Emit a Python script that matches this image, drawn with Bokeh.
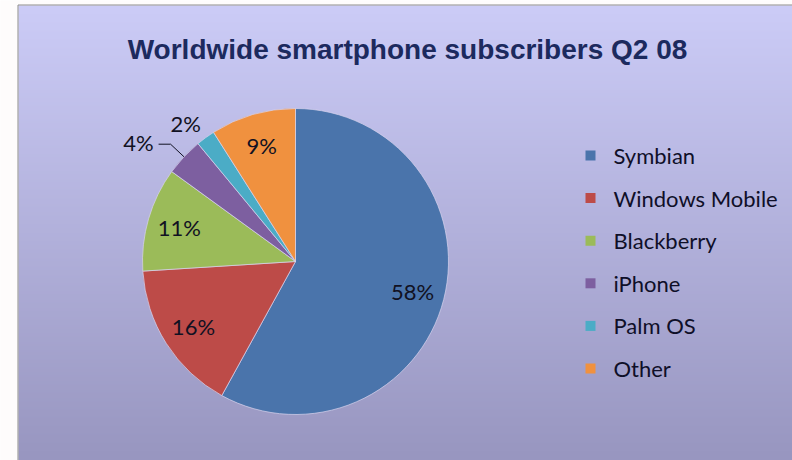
import numpy as np
from bokeh.plotting import figure
from bokeh.models import ColumnDataSource
from bokeh.core.properties import value
from bokeh.embed import file_html
from bokeh.resources import INLINE

# Smartphone subscriber share, Q2 2008 (percent)
platforms = ["Symbian", "Windows Mobile", "Blackberry", "iPhone", "Palm OS", "Other"]
shares = [58, 16, 11, 4, 2, 9]
colors = ["#4A74AB", "#BD4B48", "#9BBB59", "#7D5FA0", "#4BACC6", "#F0913F"]
title_text = "Worldwide smartphone subscribers Q2 08"

W, H = 792, 460
p = figure(width=W, height=H, x_range=(0, W), y_range=(0, H),
           output_backend="svg", toolbar_location=None, min_border=0)
p.axis.visible = False
p.grid.visible = False
p.outline_line_color = None
p.background_fill_color = "#FEFCFC"
p.border_fill_color = "#FEFCFC"

# chart area: vertical lavender gradient with a grey frame
left, top = 18, H - 5
rows = top
t = np.linspace(0, 1, rows)[:, None]           # 0 = bottom, 1 = top
c_bot = np.array([152, 150, 192])
c_top = np.array([204, 204, 247])
rgb = (c_bot + (c_top - c_bot) * t).astype(np.uint32)
img = np.empty((rows, 2), dtype=np.uint32)
view = img.view(dtype=np.uint8).reshape((rows, 2, 4))
view[:, :, 0] = rgb[:, 0:1]
view[:, :, 1] = rgb[:, 1:2]
view[:, :, 2] = rgb[:, 2:3]
view[:, :, 3] = 255
p.image_rgba(image=[img], x=left, y=0, dw=W - left, dh=top)
p.quad(left=left - 0.5, right=W + 10, bottom=-10, top=top + 0.5,
       fill_color=None, line_color="#8C8C8C", line_width=1)

# pie geometry (clockwise from 12 o'clock)
cx, cy, r = 295, H - 261, 153
frac = np.array(shares, dtype=float) / sum(shares)
cum_end = np.cumsum(frac)
cum_start = cum_end - frac
start = np.pi / 2 - 2 * np.pi * cum_end
end = np.pi / 2 - 2 * np.pi * cum_start
mid = (start + end) / 2

src = ColumnDataSource(dict(start=start, end=end, color=colors,
                            name=platforms, share=shares))
p.wedge(x=cx, y=cy, radius=r, start_angle="start", end_angle="end",
        direction="anticlock", fill_color="color", line_color="#D8D4EE",
        line_width=1, line_alpha=0.7, source=src)

# percentage labels
label_font = value("Lato")
label_size = "22px"
ink = "#111122"
inside = [i for i, v in enumerate(shares) if v >= 5]
lx = [cx + 0.79 * r * np.cos(mid[i]) for i in inside]
ly = [cy + 0.79 * r * np.sin(mid[i]) for i in inside]
p.text(x=lx, y=ly, text=[f"{shares[i]}%" for i in inside],
       text_font=label_font, text_font_size=label_size, text_color=ink,
       text_align="center", text_baseline="middle")

# small slices: iPhone with leader line, Palm OS just outside the rim
i_ip = platforms.index("iPhone")
ex, ey = cx + r * np.cos(mid[i_ip]), cy + r * np.sin(mid[i_ip])
bx, by = cx + 1.12 * r * np.cos(mid[i_ip]), cy + 1.12 * r * np.sin(mid[i_ip])
p.line(x=[ex, bx, bx - 12], y=[ey, by, by], line_color=ink, line_width=1)
p.text(x=[bx - 17], y=[by + 2], text=[f"{shares[i_ip]}%"],
       text_font=label_font, text_font_size=label_size, text_color=ink,
       text_align="right", text_baseline="middle")

i_pm = platforms.index("Palm OS")
px_ = cx + 1.15 * r * np.cos(mid[i_pm] + 0.045)
py_ = cy + 1.15 * r * np.sin(mid[i_pm] + 0.045)
p.text(x=[px_], y=[py_], text=[f"{shares[i_pm]}%"],
       text_font=label_font, text_font_size=label_size, text_color=ink,
       text_align="center", text_baseline="middle")

# title
p.text(x=[407], y=[H - 49], text=[title_text],
       text_font=value("Liberation Sans"), text_font_style="bold",
       text_font_size="28px", text_color="#1C2A5E",
       text_align="center", text_baseline="alphabetic")

# legend
leg_y = [H - (155 + 42.6 * k) for k in range(len(platforms))]
p.scatter(x=[590] * len(platforms), y=leg_y, marker="square", size=10,
          fill_color=colors, line_color=None)
p.text(x=[613] * len(platforms), y=leg_y, text=platforms,
       text_font=label_font, text_font_size=label_size, text_color="#0F0F28",
       text_align="left", text_baseline="middle")

open("out.html", "w").write(file_html(p, INLINE))
